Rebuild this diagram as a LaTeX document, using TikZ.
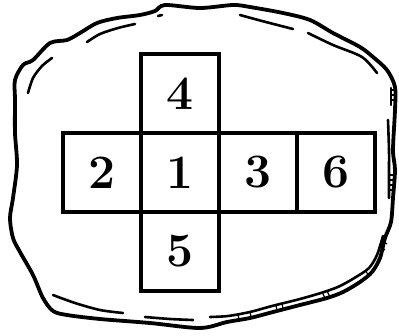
\documentclass[tikz,border=0pt]{standalone}
\begin{document}
\begin{tikzpicture}[x=1pt,y=-1pt,
  face/.style={draw=black,line width=3.6pt,minimum width=78pt,minimum height=79pt,inner sep=0pt,font=\fontsize{48}{48}\selectfont\bfseries,anchor=north west},
  rim/.style={line width=3.8pt,line join=round,line cap=round},
  inner/.style={line width=2.6pt,line cap=round}]
\useasboundingbox (0,0) rectangle (399,335);
% cube net
\node[face] (f4) at (139,52) {4};
\node[face] (f2) at (61,131) {2};
\node[face] (f1) at (139,131) {1};
\node[face] (f3) at (217,131) {3};
\node[face] (f6) at (295,131) {6};
\node[face] (f5) at (139,210) {5};
% outer rock outline
\draw[rim] plot[smooth cycle,tension=0.5] coordinates {
 (15,80) (23,65) (33,60) (50,43) (67,40) (80,33) (97,23) (117,18) (140,15) (155,11) (165,5)
 (200,8) (233,5) (250,7) (283,13) (310,20) (333,33) (360,47) (373,57) (387,70) (395,87)
 (395,110) (393,150) (395,170) (393,198) (391,222) (385,238) (380,258) (372,272) (360,282)
 (343,292) (327,298) (300,305) (273,312) (250,318) (227,322) (200,328) (150,323) (100,319)
 (67,315) (53,311) (43,298) (33,275) (20,252) (13,238) (10,218) (13,198) (17,165) (15,133) (15,100)};
% inner strokes
\draw[inner] plot[smooth] coordinates {(28,93) (33,78) (42,66) (52,58)};
\draw[inner] plot[smooth] coordinates {(87,42) (100,34) (118,28) (135,24)};
\draw[inner] plot[smooth] coordinates {(158,16) (162,15)};
\draw[inner] plot[smooth] coordinates {(240,15) (262,21) (293,29)};
\draw[inner] plot[smooth] coordinates {(308,33) (333,45) (362,57) (377,73)};
\draw[inner] plot[smooth] coordinates {(391,88) (391,105)};
\draw[inner] plot[smooth] coordinates {(388,120) (389,150) (389,170) (389,198)};
\draw[inner] plot[smooth] coordinates {(383,236) (377,255) (369,268) (356,277) (340,286) (324,292) (300,299) (272,306) (250,312) (228,316) (210,317)};
\draw[inner] plot[smooth] coordinates {(53,295) (75,303) (100,310) (123,313)};
\draw[inner] plot[smooth] coordinates {(145,317) (170,319) (193,320)};
% hatch ticks
\foreach \a/\b in {{(391,90)}/{(396,90)},{(391,95)}/{(396,95)},{(391,100)}/{(396,100)},
  {(389,175)}/{(394,175)},{(389,180)}/{(394,180)},{(389,185)}/{(394,185)},{(389,190)}/{(394,190)},
  {(381,240)}/{(387,244)},{(379,246)}/{(385,250)},{(365,270)}/{(369,276)},{(322,292)}/{(325,298)},{(327,291)}/{(330,297)},
  {(276,305)}/{(277,311)},{(282,303)}/{(283,309)},{(238,314)}/{(239,320)},{(250,311)}/{(251,317)}}
  \draw[line width=1.2pt] \a -- \b;
\end{tikzpicture}
\end{document}
